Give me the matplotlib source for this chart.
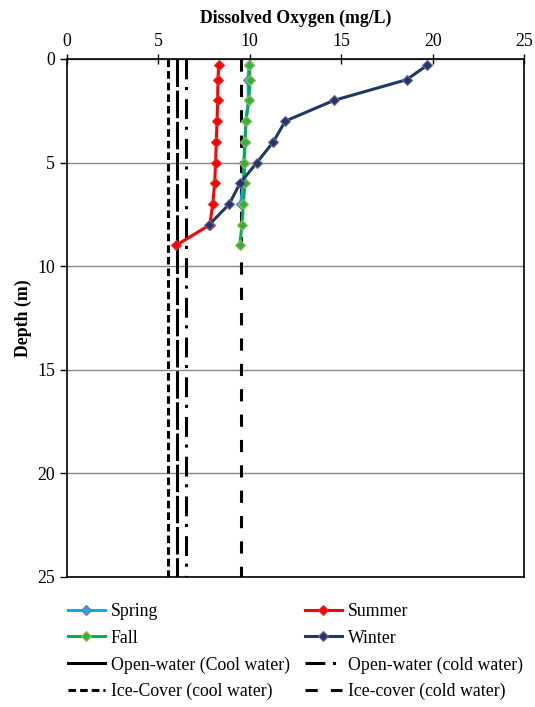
import matplotlib
matplotlib.use("Agg")
import matplotlib.pyplot as plt
from matplotlib.lines import Line2D

plt.rcParams["font.family"] = ["Liberation Serif", "DejaVu Serif"]

# depth profiles (m) and dissolved oxygen (mg/L)
depth_spring = [0.3, 1, 2, 3, 4, 5, 6, 7]
do_spring    = [9.97, 9.9, 9.93, 9.78, 9.76, 9.68, 9.65, 9.5]
depth_summer = [0.3, 1, 2, 3, 4, 5, 6, 7, 8, 9]
do_summer    = [8.3, 8.26, 8.24, 8.21, 8.17, 8.13, 8.08, 7.97, 7.82, 5.96]
depth_fall   = [0.3, 1, 2, 3, 4, 5, 6, 7, 8, 9]
do_fall      = [9.97, 10.01, 9.95, 9.79, 9.73, 9.68, 9.73, 9.65, 9.57, 9.46]
depth_winter = [0.3, 1, 2, 3, 4, 5, 6, 7, 8]
do_winter    = [19.71, 18.58, 14.6, 11.94, 11.29, 10.39, 9.46, 8.88, 7.78]

# DO criteria lines (mg/L)
crit_open_cool = 6.0
crit_open_cold = 6.5
crit_ice_cool  = 5.5
crit_ice_cold  = 9.5
crit_depth     = [0, 25]

LW = 2.2
FS = 12.8
LS_ICE_COOL = (0, (2.5, 1.3))
LS_OPEN_COLD = (0, (6.5, 2.5, 1, 3))
LS_ICE_COLD = (0, (4, 4.3))

fig = plt.figure(figsize=(5.35, 7.07), dpi=100)
ax = fig.add_axes([0.1252, 0.1839, 0.8542, 0.7327])

ax.plot([crit_ice_cool] * 2, crit_depth, color="black", lw=LW, ls=LS_ICE_COOL)
ax.plot([crit_open_cool] * 2, crit_depth, color="black", lw=LW, ls=(0, (9, 1.2)))
ax.plot([crit_open_cold] * 2, crit_depth, color="black", lw=LW, ls=LS_OPEN_COLD)
ax.plot([crit_ice_cold] * 2, crit_depth, color="black", lw=LW, ls=LS_ICE_COLD)

series = [
    (do_spring, depth_spring, "#00B0F0", "#3E9BE0", "#4F81BD"),
    (do_summer, depth_summer, "#FF0000", "#FF0000", "#E03030"),
    (do_fall,   depth_fall,   "#00B050", "#33B040", "#9BBB59"),
    (do_winter, depth_winter, "#1F3864", "#1F3864", "#7F60A0"),
]
for x, y, lc, mfc, mec in series:
    ax.plot(x, y, color=lc, lw=LW, marker="D", ms=5.5, mfc=mfc, mec=mec, mew=0.8, zorder=3)

ax.set_xlim(0, 25)
ax.set_ylim(25, 0)
ax.set_xticks(range(0, 26, 5))
ax.set_yticks(range(0, 26, 5))
ax.xaxis.tick_top()
ax.xaxis.set_label_position("top")
ax.tick_params(axis="x", direction="inout", length=7, width=1, labelsize=FS, pad=3)
ax.tick_params(axis="y", direction="out", length=5, width=1, labelsize=FS)
ax.yaxis.grid(True, color="#888888", lw=1)
ax.set_axisbelow(True)
for s in ax.spines.values():
    s.set_linewidth(1.2)
ax.set_xlabel("Dissolved Oxygen (mg/L)", fontsize=FS, fontweight="bold", labelpad=7)
ax.set_ylabel("Depth (m)", fontsize=FS, fontweight="bold", labelpad=4)

def h(color, ls="-", marker=None, mfc=None, mec=None):
    return Line2D([], [], color=color, lw=LW, ls=ls, marker=marker, ms=5.5,
                  mfc=mfc, mec=mec, mew=0.8)

handles = [
    h("#00B0F0", marker="D", mfc="#3E9BE0", mec="#4F81BD"),
    h("#00B050", marker="D", mfc="#33B040", mec="#9BBB59"),
    h("black"),
    h("black", ls=LS_ICE_COOL),
    h("#FF0000", marker="D", mfc="#FF0000", mec="#E03030"),
    h("#1F3864", marker="D", mfc="#1F3864", mec="#7F60A0"),
    h("black", ls=LS_OPEN_COLD),
    h("black", ls=LS_ICE_COLD),
]
labels = ["Spring", "Fall", "Open-water (Cool water)", "Ice-Cover (cool water)",
          "Summer", "Winter", "Open-water (cold water)", "Ice-cover (cold water)"]
fig.legend(handles, labels, ncol=2, loc="upper left", bbox_to_anchor=(0.127, 0.147),
           frameon=False, fontsize=FS, handlelength=2.08, handletextpad=0.33,
           columnspacing=0.85, labelspacing=0.54, borderpad=0, borderaxespad=0)

fig.savefig("out.png", dpi=100)
